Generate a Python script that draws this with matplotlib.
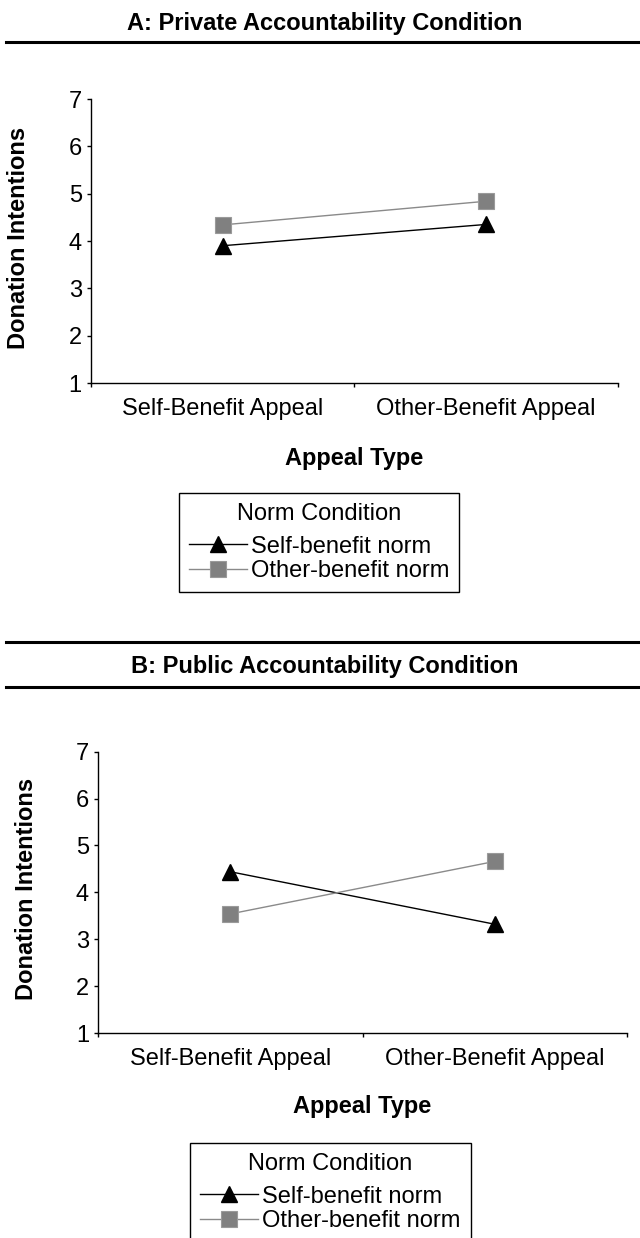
import matplotlib
matplotlib.use("Agg")
import matplotlib.pyplot as plt
from matplotlib.lines import Line2D

plt.rcParams['font.family'] = ['Liberation Sans', 'DejaVu Sans']

categories = ["Self-Benefit Appeal", "Other-Benefit Appeal"]
series_names = ["Self-benefit norm", "Other-benefit norm"]
a_self = [3.90, 4.35]
a_other = [4.34, 4.84]
b_self = [4.44, 3.32]
b_other = [3.54, 4.66]
yticks = [1, 2, 3, 4, 5, 6, 7]

W, H = 640, 1238
fig = plt.figure(figsize=(W / 100, H / 100), dpi=100)
FS = 17

def rule(y):
    fig.add_artist(Line2D([6 / W, 1], [1 - y / H] * 2, color='black', lw=2.2,
                          transform=fig.transFigure))

def panel(rect, s_vals, o_vals, title, title_y, rules, ylab_x, xlab_y, leg_anchor):
    ax = fig.add_axes(rect)
    x = list(range(len(categories)))
    ax.plot(x, s_vals, color='black', lw=1.0, marker='^', ms=11.5,
            markerfacecolor='black', markeredgecolor='black', label=series_names[0])
    ax.plot(x, o_vals, color='#8a8a8a', lw=1.0, marker='s', ms=11,
            markerfacecolor='#808080', markeredgecolor='#9a9a9a', markeredgewidth=0.8,
            label=series_names[1])
    ax.set_xlim(-0.5, len(categories) - 0.5)
    ax.set_ylim(1, 7)
    ax.set_yticks(yticks)
    ax.set_yticklabels([str(v) for v in yticks], fontsize=FS)
    ax.set_xticks(x)
    ax.set_xticklabels(categories, fontsize=FS)
    ax.set_xticks([i - 0.5 for i in range(len(categories) + 1)], minor=True)
    ax.tick_params(axis='x', which='major', length=0, pad=10.8)
    ax.tick_params(axis='x', which='minor', length=3, width=1, direction='out')
    ax.tick_params(axis='y', which='major', length=3, width=1, pad=3.4, direction='out')
    for s in ['top', 'right']:
        ax.spines[s].set_visible(False)
    for s in ['left', 'bottom']:
        ax.spines[s].set_linewidth(1.0)
    fig.text(325 / W, 1 - title_y / H, title, ha='center', va='baseline',
             fontsize=FS, fontweight='bold')
    for r in rules:
        rule(r)
    b = ax.get_position()
    fig.text(ylab_x / W, (b.y0 + b.y1) / 2 + 3 / H, "Donation Intentions", rotation=90,
             ha='center', va='center', fontsize=FS, fontweight='bold')
    fig.text((b.x0 + b.x1) / 2, 1 - xlab_y / H, "Appeal Type", ha='center', va='baseline',
             fontsize=FS, fontweight='bold')
    leg = fig.legend(handles=ax.get_lines(), labels=series_names, title="Norm Condition",
                     loc='upper center', bbox_to_anchor=leg_anchor,
                     fontsize=FS, title_fontsize=FS, frameon=True, fancybox=False,
                     edgecolor='black', framealpha=1, borderpad=0.42, labelspacing=0.11,
                     handlelength=2.46, handletextpad=0.17, borderaxespad=0)
    leg._legend_box.sep = 7.8
    leg.get_frame().set_linewidth(1.0)
    return ax

# Panel A
panel([90.7 / W, 1 - 383 / H, (618 - 90.7) / W, (383 - 99) / H],
      a_self, a_other, "A: Private Accountability Condition", 30, [42.3],
      19, 464.5, (319 / W, 1 - 493 / H))

# Panel B
panel([98 / W, 1 - 1033 / H, (627 - 98) / W, (1033 - 751.7) / H],
      b_self, b_other, "B: Public Accountability Condition", 673, [641.7, 687.3],
      27, 1113.5, (330.5 / W, 1 - 1143 / H))

fig.savefig("out.png", dpi=100)
